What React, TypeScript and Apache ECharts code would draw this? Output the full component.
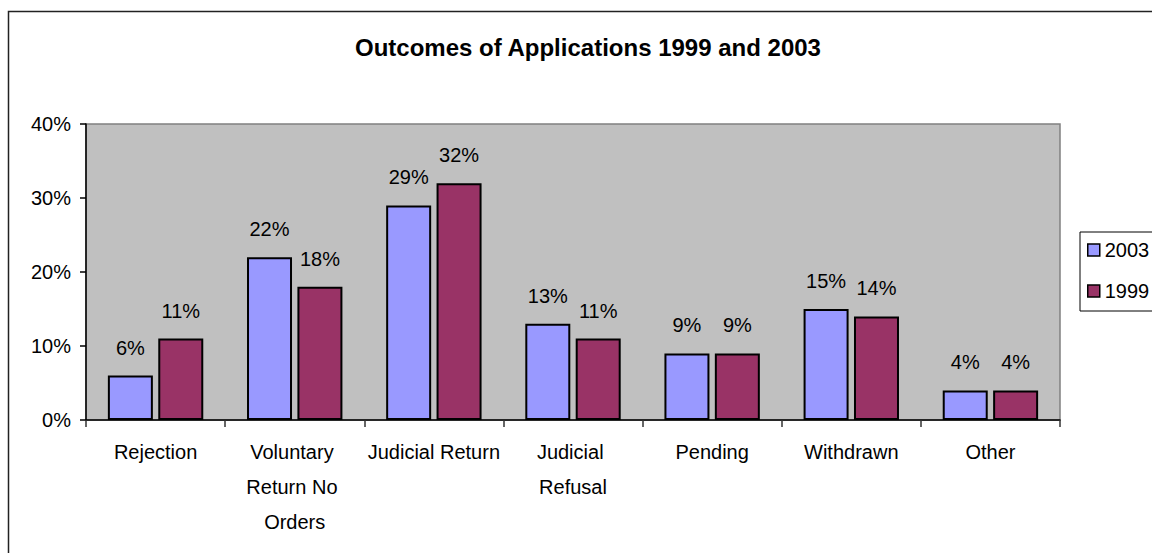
import React, { useEffect, useRef } from "react";
import * as echarts from "echarts";

const categories = [
  "Rejection",
  "Voluntary Return No Orders",
  "Judicial Return",
  "Judicial Refusal",
  "Pending",
  "Withdrawn",
  "Other",
];
const values2003 = [0.06, 0.22, 0.29, 0.13, 0.09, 0.15, 0.04];
const values1999 = [0.11, 0.18, 0.32, 0.11, 0.09, 0.14, 0.04];
const yTicks = { min: 0, max: 0.4, interval: 0.1 };

const FONT = "'Liberation Sans', Arial, sans-serif";

export default function App() {
  const ref = useRef<HTMLDivElement>(null);
  useEffect(() => {
    if (!ref.current) return;
    const chart = echarts.init(ref.current, null, { renderer: "svg" });
    const pct = (v: number) => Math.round(v * 100) + "%";
    const label = {
      show: true,
      position: "top",
      distance: 18,
      color: "#000",
      fontSize: 20,
      fontFamily: FONT,
      formatter: (p: any) => pct(p.value),
    };
    chart.setOption({
      animation: false,
      backgroundColor: "#fff",
      textStyle: { fontFamily: FONT, color: "#000" },
      title: {
        text: "Outcomes of Applications 1999 and 2003",
        left: 355,
        top: 35,
        padding: 0,
        textStyle: { fontSize: 24, fontWeight: "bold", fontFamily: FONT, color: "#000" },
      },
      graphic: [
        {
          type: "rect",
          shape: { x: 8.5, y: 11.5, width: 1300, height: 700 },
          style: { fill: "none", stroke: "#222", lineWidth: 1.5 },
          silent: true,
          z: -10,
        },
      ],
      legend: {
        orient: "vertical",
        left: 1080,
        top: 232,
        padding: [8, 10, 10, 7],
        itemGap: 21,
        itemWidth: 12,
        itemHeight: 12,
        icon: "rect",
        borderColor: "#000",
        borderWidth: 1,
        backgroundColor: "#fff",
        textStyle: { fontSize: 20, fontFamily: FONT, color: "#000" },
        itemStyle: { borderColor: "#000", borderWidth: 1.5 },
        data: ["2003", "1999"],
      },
      grid: {
        left: 86,
        right: 92,
        top: 124,
        bottom: 133,
        show: true,
        backgroundColor: "#C0C0C0",
        borderColor: "#808080",
        borderWidth: 1.5,
        containLabel: false,
      },
      xAxis: {
        type: "category",
        data: categories,
        axisLine: { show: true, lineStyle: { color: "#000", width: 1.5 } },
        axisTick: { show: true, length: 7, lineStyle: { color: "#333", width: 1.5 } },
        axisLabel: {
          fontSize: 20,
          fontFamily: FONT,
          color: "#000",
          margin: 14,
          lineHeight: 35,
          width: 136,
          overflow: "break",
          interval: 0,
        },
        splitLine: { show: false },
      },
      yAxis: {
        type: "value",
        min: yTicks.min,
        max: yTicks.max,
        interval: yTicks.interval,
        axisLine: { show: true, lineStyle: { color: "#000", width: 1.5 } },
        axisTick: { show: true, length: 6, lineStyle: { color: "#000", width: 1.5 } },
        axisLabel: {
          fontSize: 20,
          fontFamily: FONT,
          color: "#000",
          margin: 15,
          formatter: (v: number) => pct(v),
        },
        splitLine: { show: false },
      },
      series: [
        {
          name: "2003",
          type: "bar",
          data: values2003,
          barWidth: 45,
          barGap: "12%",
          itemStyle: { color: "#9999FF", borderColor: "#000", borderWidth: 2 },
          label,
        },
        {
          name: "1999",
          type: "bar",
          data: values1999,
          barWidth: 45,
          barGap: "12%",
          itemStyle: { color: "#993366", borderColor: "#000", borderWidth: 2 },
          label,
        },
      ],
    });
    return () => chart.dispose();
  }, []);
  return (
    <div
      ref={ref}
      style={{ position: "fixed", left: 0, top: 0, width: 1152, height: 553 }}
    />
  );
}
